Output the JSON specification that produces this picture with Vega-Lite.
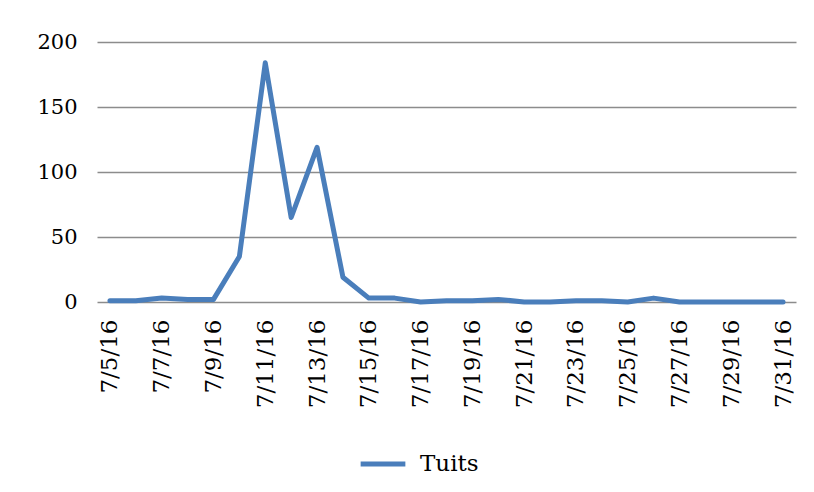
{
  "$schema": "https://vega.github.io/schema/vega-lite/v6.json",
  "width": 699,
  "height": 260,
  "autosize": {"type": "none"},
  "padding": {"left": 97, "top": 42, "right": 18, "bottom": 190},
  "background": "white",
  "config": {
    "view": {"stroke": null},
    "font": "DejaVu Serif"
  },
  "data": {
    "values": [
      {"date": "7/5/16", "tuits": 1},
      {"date": "7/6/16", "tuits": 1},
      {"date": "7/7/16", "tuits": 3},
      {"date": "7/8/16", "tuits": 2},
      {"date": "7/9/16", "tuits": 2},
      {"date": "7/10/16", "tuits": 35},
      {"date": "7/11/16", "tuits": 184},
      {"date": "7/12/16", "tuits": 65},
      {"date": "7/13/16", "tuits": 119},
      {"date": "7/14/16", "tuits": 19},
      {"date": "7/15/16", "tuits": 3},
      {"date": "7/16/16", "tuits": 3},
      {"date": "7/17/16", "tuits": 0},
      {"date": "7/18/16", "tuits": 1},
      {"date": "7/19/16", "tuits": 1},
      {"date": "7/20/16", "tuits": 2},
      {"date": "7/21/16", "tuits": 0},
      {"date": "7/22/16", "tuits": 0},
      {"date": "7/23/16", "tuits": 1},
      {"date": "7/24/16", "tuits": 1},
      {"date": "7/25/16", "tuits": 0},
      {"date": "7/26/16", "tuits": 3},
      {"date": "7/27/16", "tuits": 0},
      {"date": "7/28/16", "tuits": 0},
      {"date": "7/29/16", "tuits": 0},
      {"date": "7/30/16", "tuits": 0},
      {"date": "7/31/16", "tuits": 0}
    ]
  },
  "mark": {"type": "line", "strokeWidth": 5, "strokeJoin": "round", "strokeCap": "round"},
  "encoding": {
    "x": {
      "field": "date",
      "type": "ordinal",
      "sort": null,
      "scale": {"type": "point", "padding": 0.5},
      "axis": {
        "title": null,
        "values": ["7/5/16","7/7/16","7/9/16","7/11/16","7/13/16","7/15/16","7/17/16","7/19/16","7/21/16","7/23/16","7/25/16","7/27/16","7/29/16","7/31/16"],
        "labelAngle": 270,
        "labelAlign": "right",
        "labelBaseline": "middle",
        "labelFontSize": 23,
        "labelColor": "#000000",
        "labelPadding": 17,
        "ticks": false,
        "domain": false,
        "grid": false
      }
    },
    "y": {
      "field": "tuits",
      "type": "quantitative",
      "scale": {"domain": [0, 200], "nice": false},
      "axis": {
        "title": null,
        "values": [0, 50, 100, 150, 200],
        "labelFontSize": 21,
        "labelColor": "#000000",
        "labelPadding": 20,
        "ticks": false,
        "domain": false,
        "grid": true,
        "gridColor": "#8c8c8c",
        "gridWidth": 1.5
      }
    },
    "color": {
      "datum": "Tuits",
      "type": "nominal",
      "scale": {"range": ["#4a7ebb"]},
      "legend": {
        "title": null,
        "orient": "none",
        "legendX": 261,
        "legendY": 397,
        "symbolType": "stroke",
        "symbolSize": 2000,
        "symbolStrokeWidth": 5,
        "labelFontSize": 23,
        "labelColor": "#000000",
        "labelOffset": 12
      }
    }
  }
}
